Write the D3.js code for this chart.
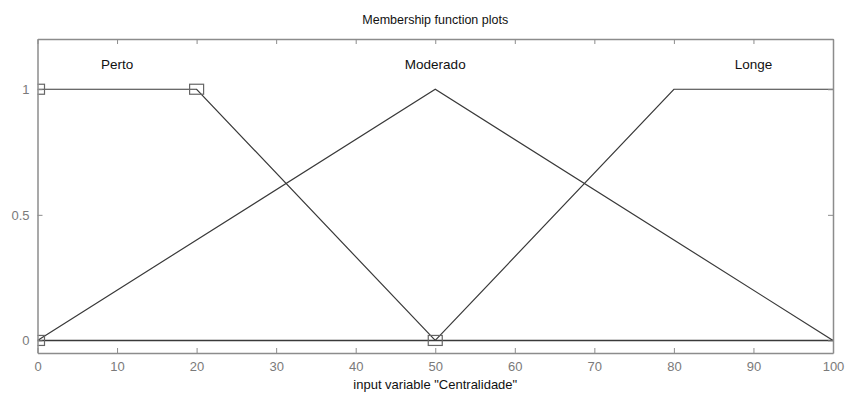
<!DOCTYPE html>
<html><head><meta charset="utf-8">
<script src="https://cdn.jsdelivr.net/npm/d3@7"></script>
<style>body{margin:0;background:#fff;} text{font-family:"Liberation Sans",Arial,sans-serif;}</style>
</head><body>
<svg id="c" width="848" height="396"></svg>
<script>
const xTicks = [0,10,20,30,40,50,60,70,80,90,100];
const yTicks = [0,0.5,1];
const yTickLabels = ["0","0.5","1"];
const mfNames = ["Perto","Moderado","Longe"];
const mfLabelX = [10,50,90];
const mfX = [[0,20,50],[0,50,100],[50,80,100]];
const mfY = [[1,1,0],[0,1,0],[0,1,1]];
const baseX = [0,100];
const baseY = [0,0];
const markX = [0,20,0,50];
const markY = [1,1,0,0];

const svg = d3.select("#c");
const L=37.5, R=833, T=39, B=353;
const x = d3.scaleLinear().domain([0,100]).range([L,R]);
const y = d3.scaleLinear().domain([-0.05,1.2]).range([B,T]);
const axisCol = "#8c8c8c";
const tickCol = "#7a7a7a";

svg.append("defs").append("clipPath").attr("id","clip")
  .append("rect").attr("x",L).attr("y",T).attr("width",R-L).attr("height",B-T);

const g = svg.append("g");
const plot = g.append("g").attr("clip-path","url(#clip)");
// bottom axis
const ax = g.append("g").attr("transform",`translate(0,${B})`)
  .call(d3.axisBottom(x).tickValues(xTicks).tickSizeInner(-5).tickSizeOuter(0).tickPadding(9));
const axT = g.append("g").attr("transform",`translate(0,${T})`)
  .call(d3.axisTop(x).tickValues(xTicks).tickSizeInner(-5).tickSizeOuter(0).tickFormat(""));
const ay = g.append("g").attr("transform",`translate(${L},0)`)
  .call(d3.axisLeft(y).tickValues(yTicks).tickFormat((d,i)=>yTickLabels[i]).tickSizeInner(-5).tickSizeOuter(0).tickPadding(8));
const ayR = g.append("g").attr("transform",`translate(${R},0)`)
  .call(d3.axisRight(y).tickValues(yTicks).tickSizeInner(-5).tickSizeOuter(0).tickFormat(""));
[ax,axT,ay,ayR].forEach(a=>{
  a.select(".domain").attr("stroke",axisCol).attr("stroke-width",1.5);
  a.selectAll(".tick line").attr("stroke",axisCol);
  a.selectAll(".tick text").attr("fill",tickCol).attr("font-size",13).attr("font-family","Liberation Sans, Arial, sans-serif");
});

const line = d3.line().x(d=>x(d[0])).y(d=>y(d[1]));
// baseline
plot.append("path").datum(baseX.map((v,i)=>[v,baseY[i]])).attr("d",line)
  .attr("fill","none").attr("stroke","#3a3a3a").attr("stroke-width",1.6);
mfX.forEach((xs,k)=>{
  plot.append("path").datum(xs.map((v,i)=>[v,mfY[k][i]])).attr("d",line)
   .attr("fill","none").attr("stroke","#3a3a3a").attr("stroke-width",1.2);
});
// markers
plot.selectAll("rect.m").data(markX.map((v,i)=>[v,markY[i]])).enter().append("rect")
  .attr("x",d=>x(d[0])-7).attr("y",d=>y(d[1])-5).attr("width",14).attr("height",10)
  .attr("fill","none").attr("stroke","#666").attr("stroke-width",1.2);
// mf labels
g.selectAll("text.mf").data(mfNames).enter().append("text")
  .attr("x",(d,i)=>x(mfLabelX[i])).attr("y",y(1.1)+5).attr("text-anchor","middle")
  .attr("font-size",13.5).attr("fill","#111").text(d=>d);
// title
svg.append("text").attr("x",(L+R)/2).attr("y",24).attr("text-anchor","middle")
  .attr("font-size",12.5).attr("fill","#111").text("Membership function plots");
svg.append("text").attr("x",(L+R)/2).attr("y",389).attr("text-anchor","middle")
  .attr("font-size",13).attr("fill","#111").text('input variable "Centralidade"');
</script>
</body></html>
